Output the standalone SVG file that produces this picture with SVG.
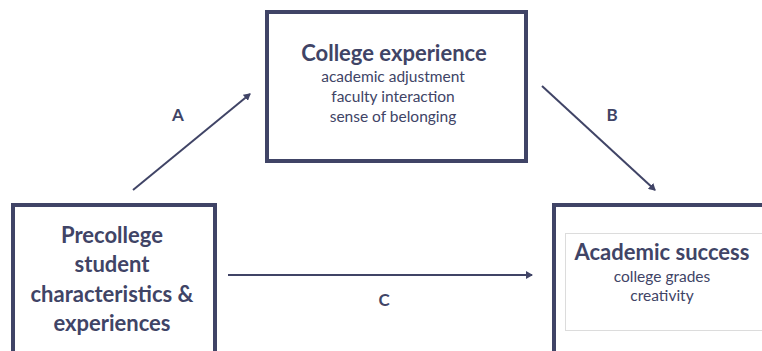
<svg xmlns="http://www.w3.org/2000/svg" width="762" height="351" viewBox="0 0 762 351">
<defs>
<marker id="ah" markerWidth="8" markerHeight="8" refX="6" refY="4" orient="auto" markerUnits="userSpaceOnUse">
<path d="M0,0 L7,4 L0,8 Z" fill="#404466"/>
</marker>
<style>
.box{fill:#fff;stroke:#404466;stroke-width:4}
.t{font-family:Lato,"Open Sans","Liberation Sans",sans-serif;fill:#404466;text-anchor:middle}
.h{font-weight:bold;font-size:22px}
.s{font-size:15.5px}
.lbl{font-weight:bold;font-size:17px}
.c{stroke:#404466;stroke-width:2;fill:none;marker-end:url(#ah)}
</style>
</defs>
<rect width="762" height="351" fill="#fff"/>
<g id="college">
<rect class="box" x="267" y="12" width="259" height="149"/>
<text class="t h" x="394" y="61">College experience</text>
<text class="t s" x="393" y="82">academic adjustment</text>
<text class="t s" x="393" y="102">faculty interaction</text>
<text class="t s" x="393" y="122">sense of belonging</text>
</g>
<g id="precollege">
<rect class="box" x="13" y="205" width="202" height="160"/>
<text class="t h" x="112" y="243">Precollege</text>
<text class="t h" x="112" y="272">student</text>
<text class="t h" x="112" y="302">characteristics &amp;</text>
<text class="t h" x="112" y="331">experiences</text>
</g>
<g id="academic">
<rect class="box" x="554" y="205" width="220" height="160"/>
<rect x="565.5" y="233.5" width="200" height="97" fill="#fff" stroke="#dcdcdc" stroke-width="1"/>
<text class="t h" x="662" y="260">Academic success</text>
<text class="t s" x="662" y="282">college grades</text>
<text class="t s" x="662" y="301">creativity</text>
</g>
<g id="connectors">
<line class="c" x1="133" y1="190" x2="250" y2="94"/>
<line class="c" x1="542" y1="86" x2="655" y2="190"/>
<line class="c" x1="228" y1="275" x2="532" y2="275"/>
<text class="t lbl" x="178" y="121">A</text>
<text class="t lbl" x="612" y="121">B</text>
<text class="t lbl" x="384" y="306">C</text>
</g>
</svg>
